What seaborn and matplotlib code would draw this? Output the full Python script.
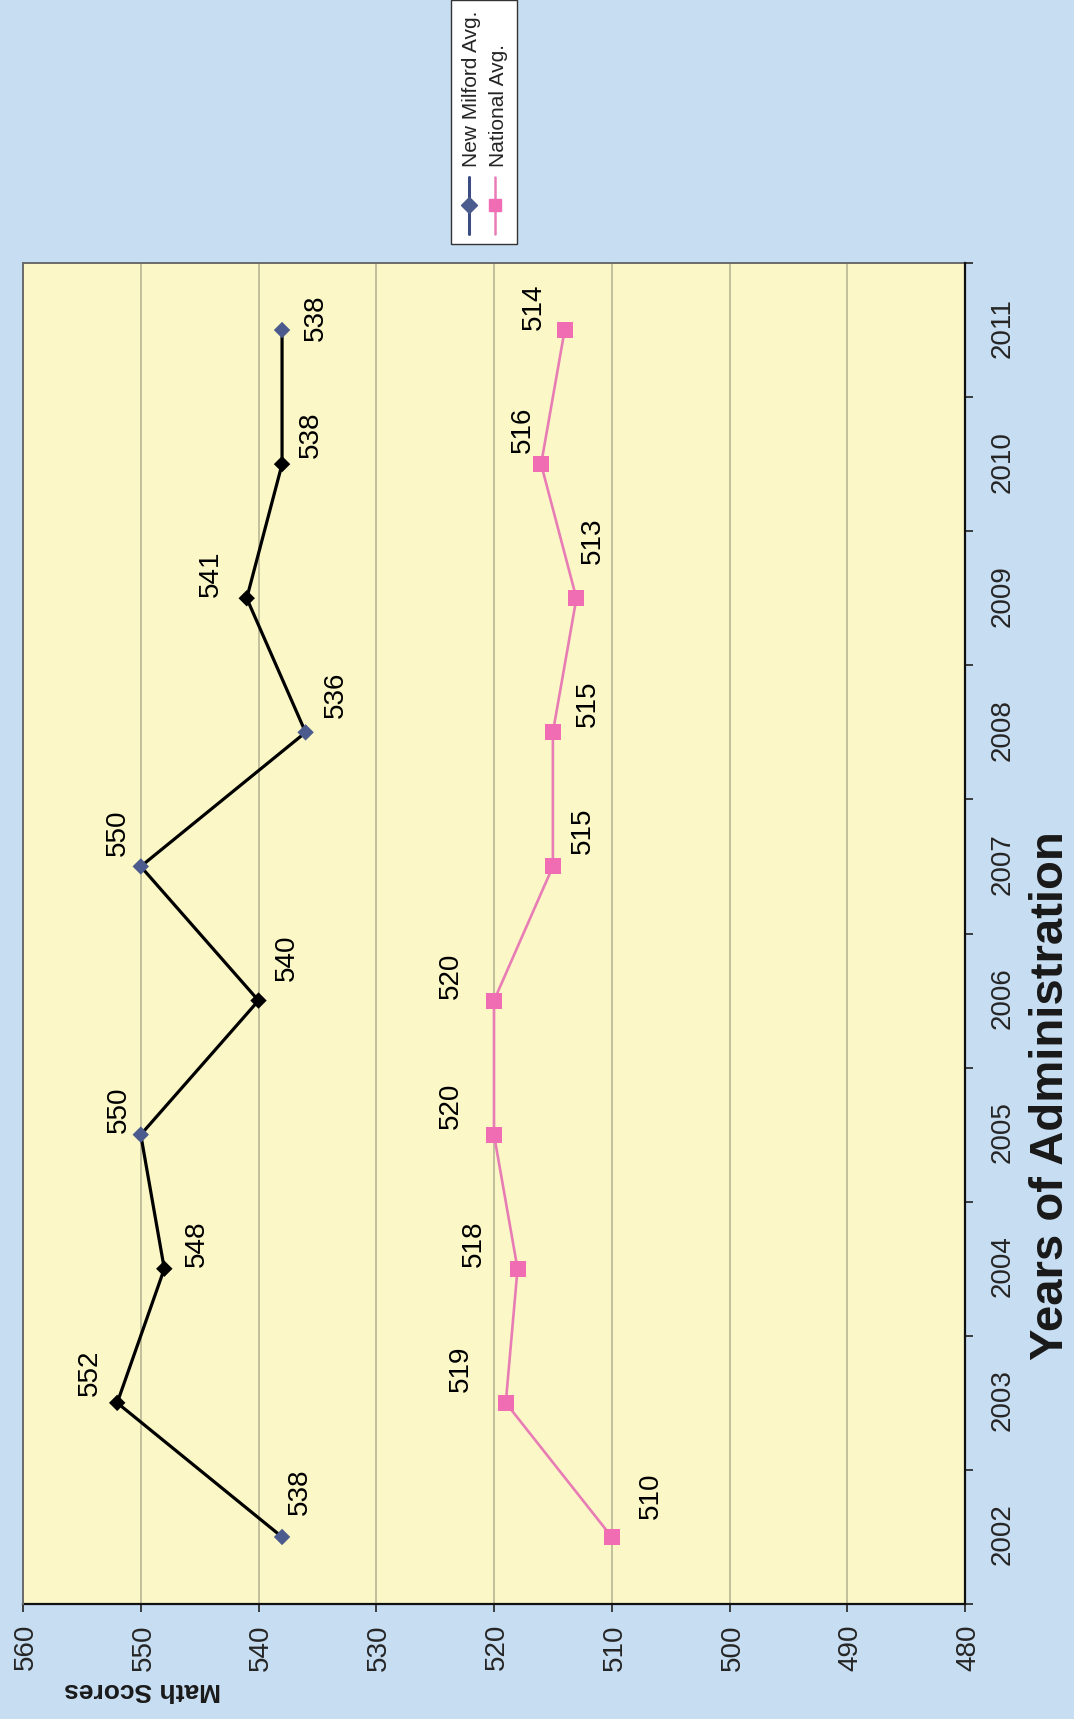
import numpy as np
import pandas as pd
import matplotlib
matplotlib.use("Agg")
import matplotlib.pyplot as plt
import seaborn as sns
from matplotlib.lines import Line2D
from matplotlib.ticker import FixedLocator

# ---- data -------------------------------------------------------------
years = [2002, 2003, 2004, 2005, 2006, 2007, 2008, 2009, 2010, 2011]
milford = [538, 552, 548, 550, 540, 550, 536, 541, 538, 538]
national = [510, 519, 518, 520, 520, 515, 515, 513, 516, 514]
series_names = ["New Milford Avg.", "National Avg."]
score_ticks = [480, 490, 500, 510, 520, 530, 540, 550, 560]
x_title = "Years of Administration"
y_title = "Math Scores"

# marker tone of each New Milford point
milford_tone = ["blue", "black", "black", "blue", "black",
                "blue", "blue", "black", "black", "blue"]

# label placement (pixels right, pixels up from each point)
milford_label_offsets = [(43, -18), (28, 27), (23, -33), (23, 22), (41, -29),
                         (32, 23), (35, -30), (22, 36), (27, -29), (10, -34)]
national_label_offsets = [(39, -39), (32, 45), (23, 44), (27, 43), (23, 43),
                          (34, -30), (26, -35), (55, -17), (32, 18), (21, 31)]

# ---- style ------------------------------------------------------------
BG = "#c7ddf2"
PLOT_BG = "#fbf7c6"
NAVY = "#4b5b8e"
PINK_LINE = "#e87db6"
PINK_MARK = "#f06db3"

sns.set_style("white")
plt.rcParams["font.family"] = ["Liberation Sans", "DejaVu Sans"]

W, H = 1719, 1074
fig = plt.figure(figsize=(W / 100, H / 100), dpi=100, facecolor=BG)
ax = fig.add_axes([115 / W, 1 - 965 / H, (1456 - 115) / W, (965 - 23) / H])
ax.set_facecolor(PLOT_BG)

df = pd.DataFrame({
    "Year": years * 2,
    "Score": milford + national,
    "Series": [series_names[0]] * len(years) + [series_names[1]] * len(years),
})

sns.lineplot(data=df, x="Year", y="Score", hue="Series",
             palette={series_names[0]: "#000000", series_names[1]: PINK_LINE},
             linewidth=2.2, legend=False, ax=ax, zorder=3)
for line, lw in zip(ax.get_lines(), [2.3, 1.9]):
    line.set_linewidth(lw)

sns.scatterplot(x=years, y=milford, hue=milford_tone,
                palette={"blue": NAVY, "black": "#000000"},
                marker="D", s=70, linewidth=0, legend=False, ax=ax, zorder=4)
sns.scatterplot(x=years, y=national, color=PINK_MARK, marker="s", s=120,
                linewidth=0, legend=False, ax=ax, zorder=4)

for yr, val, (dx, dy) in zip(years, milford, milford_label_offsets):
    ax.annotate(f"{val}", (yr, val), xytext=(dx, dy), textcoords="offset pixels",
                ha="center", va="center", fontsize=20, color="#000000", zorder=5)
for yr, val, (dx, dy) in zip(years, national, national_label_offsets):
    ax.annotate(f"{val}", (yr, val), xytext=(dx, dy), textcoords="offset pixels",
                ha="center", va="center", fontsize=20, color="#000000", zorder=5)

# axes, ticks, grid
ax.set_xlim(years[0] - 0.5, years[-1] + 0.5)
ax.set_ylim(score_ticks[0], score_ticks[-1])
ax.set_xticks(years)
ax.set_xticklabels([str(y) for y in years])
ax.xaxis.set_minor_locator(FixedLocator([y - 0.5 for y in years] + [years[-1] + 0.5]))
ax.set_yticks(score_ticks)
ax.tick_params(axis="x", which="major", length=0, pad=18, labelsize=20)
ax.tick_params(axis="x", which="minor", length=6, width=1.2, direction="out",
               color="#222222", bottom=True)
ax.tick_params(axis="y", which="major", length=6, width=1.2, direction="out",
               color="#222222", pad=10, labelsize=20, left=True)
ax.yaxis.grid(True, color="#b3b093", linewidth=1.1)
ax.xaxis.grid(False)
ax.set_axisbelow(True)
ax.set_xlabel("")
ax.set_ylabel("")
for side in ["left", "bottom"]:
    ax.spines[side].set_color("#111111")
    ax.spines[side].set_linewidth(1.6)
for side in ["top", "right"]:
    ax.spines[side].set_color("#6a6a6a")
    ax.spines[side].set_linewidth(1.4)

fig.text(622 / W, 1 - 1050 / H, x_title, ha="center", va="center",
         fontsize=34, fontweight="bold", color="#1a1a1a")
fig.text(28 / W, 1 - 142 / H, y_title, ha="center", va="center",
         rotation=90, fontsize=19, fontweight="bold", color="#1a1a1a")

handles = [
    Line2D([], [], color="#3d4c82", lw=2.2, marker="D", markersize=8,
           markerfacecolor=NAVY, markeredgecolor=NAVY),
    Line2D([], [], color=PINK_LINE, lw=1.8, marker="s", markersize=9,
           markerfacecolor=PINK_MARK, markeredgecolor=PINK_MARK),
]
leg = fig.legend(handles, series_names, loc="center",
                 bbox_to_anchor=(1596 / W, 1 - 484 / H), fontsize=15,
                 frameon=True, fancybox=False, framealpha=1,
                 facecolor="white", edgecolor="#333333",
                 handlelength=2.7, handletextpad=0.5, labelspacing=0.35,
                 borderpad=0.5)
leg.get_frame().set_linewidth(1.0)

# render the landscape chart and turn it a quarter-turn counter-clockwise
fig.canvas.draw()
img = np.asarray(fig.canvas.buffer_rgba())
plt.imsave("out.png", np.ascontiguousarray(np.rot90(img, k=1)))
